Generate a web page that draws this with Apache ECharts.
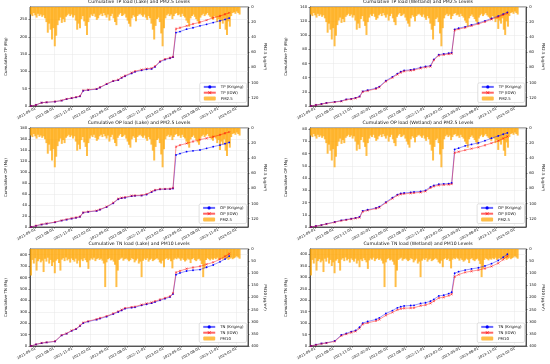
<!DOCTYPE html>
<html><head><meta charset="utf-8">
<script src="https://cdn.jsdelivr.net/npm/echarts@6/dist/echarts.min.js"></script>
<style>html,body{margin:0;padding:0;background:#fff}#c{width:550px;height:364px}</style>
</head><body><div id="c"></div>
<script>
// ---- data ----
const sampleDates = ['2021-04-09','2021-05-04','2021-06-01','2021-06-26','2021-08-07','2021-09-09','2021-10-04','2021-10-29','2021-11-20','2021-12-10','2021-12-26','2022-01-20','2022-03-03','2022-03-20','2022-04-22','2022-05-25','2022-06-19','2022-07-06','2022-07-23','2022-08-25','2022-09-11','2022-10-14','2022-11-08','2022-12-03','2022-12-20','2023-01-14','2023-02-08','2023-03-05','2023-03-20','2023-04-04','2023-04-24','2023-05-27','2023-06-28','2023-08-02','2023-09-04','2023-10-07','2023-11-10','2023-12-05','2023-12-26'];
const tpLakeKriging = [0,3,9.6,10.6,12.5,15.7,20,22.5,25,28,44,46,48.7,53.4,63,71.7,74.6,81.4,86,94,98.6,103,106,107,113,127.6,134,138,141,212,215,222,226,231.5,236,241,246,250,254];
const tpLakeIdw = [0,3,9.6,10.8,12.8,16,20.5,23,25.5,28.5,45,47,49.5,54,64,72.5,76,82.5,87.5,96,100.5,105,108,109,115,129,135.5,139.5,142,223,226,231.6,237,242,248,255,260,265,269];
const tpWetKriging = [0,1.5,2.8,4.4,5.9,7,9.5,10.2,11.5,13.5,20.8,22.4,25.1,27.5,35.8,41.2,45.8,48.5,50.3,51.2,52,54.5,56,56.9,66,72.6,73.6,74.6,75.2,108.5,110,112,114.6,117.3,120.4,123.8,127.2,130,132.5];
const tpWetIdw = [0,1.4,2.6,4.1,5.5,6.6,9,9.7,11,12.9,20.1,21.6,24.3,26.6,34.8,40.1,44.6,47.3,49.2,50.1,50.9,53.3,54.8,55.8,64.9,71.5,72.5,73.5,74.1,107,108.7,110.8,113.4,116.1,119.2,122.6,126,128.8,131];
const opLakeKriging = [0,2.2,4.5,6,8.5,11.6,13.4,15.2,16.6,18.5,26,27.5,29.2,31.5,36.3,43,50.5,52.5,53.2,56,56.7,57.1,59,63.5,66.5,68.5,68.8,69,70,131,133.5,137,138.5,140,143,146,149,151.5,153.8];
const opLakeIdw = [0,2.4,4.8,6.3,8.9,12,13.9,15.8,17.2,19,26.5,28,29.8,32,37,44,51.5,53.3,54,56.8,57.3,57.8,59.8,64.5,67.3,69,69.3,69.5,71,146,148.8,152,155.5,158.8,161.4,164,167.5,170.5,172.5];
const opWetKriging = [0,0.8,1.6,2.6,4.1,5.5,6.1,6.8,7.4,8.2,13.2,14.1,15.6,16.6,20.4,24,26.5,27.5,27.8,28.4,28.7,29.1,30,32.8,34,35,35.3,35.5,36,63.5,64.5,66.4,67.6,68.8,70.6,72.7,74.5,75.9,77];
const opWetIdw = [0,0.7,1.5,2.4,3.9,5.2,5.8,6.5,7.1,7.8,12.6,13.6,15.1,16,19.8,23.3,25.9,26.8,27.1,27.6,27.9,28.3,29.2,32,33.2,34.2,34.5,34.7,35.2,60.8,61.6,62.9,64.1,65.3,66.9,68.6,70.5,72.4,74];
const tnLakeKriging = [0,14,25,31,40,93,108,133,147,175,200,214,231,240,257,280,298,312,327,336,339,356,366,375,385,400,415,429,455,625,640,657,664,670,690,710,738,762,788];
const tnLakeIdw = [0,14,26,32,41,95,110,136,150,179,205,218,235,245,262,285,303,317,332,341,345,362,372,381,392,407,421,436,462,645,658,677,688,698,716,733,760,785,808];
const tnWetKriging = [0,6,11,14,22,48,55,63,68,82,100,107,116,123,142,155,167,172,175,177,178,186,189,196,204,219,222,229,235,318,325,332,337,342,350,360,374,388,401];
const tnWetIdw = [0,5,10,13,20,45,52,59,64,77,95,101,110,116,134,147,158,163,165,166,167,176,179,187,196,210,213,220,226,303,312,322,327,332,339,348,362,378,392];

// weekly air-quality values, first week starting pmStart
const pmStart = '2021-04-09';
const pm25 = [10,12,8,11,14,9,12,10,13,11, 15,20,34,22,30,43,28,52,38,24, 18,14,21,16,20,13,11,9,12,10,
  14,11,18,30,22,28,16,12,19,25, 37,20,14,10,12,9,13,17,15,11, 9,12,8,11,14,10,18,12,9,15,
  20,24,13,10,8,12,11,9,14,18, 22,26,15,11,13,19,12,10,9,11, 13,10,14,17,12,15,22,30,43,25,
  16,14,20,35,52,28,15,11,9,12, 10,16,12,9,8,11,10,13,9,12, 14,18,21,26,15,12,10,13,16,19,
  22,14,11,9,12,10,8,11,13,15, 17,12,14,20,16,29,18,22,15,30, 37,19,26,12,8,7,9,6,8,10];
const pm10 = [109,45,60,38,89,50,42,55,48,95, 40,52,36,60,45,70,55,100,48,42, 58,89,44,38,50,35,47,41,56,39,
  45,52,40,60,48,75,43,50,38,46, 55,82,47,39,44,36,50,42,38,45, 40,48,60,157,55,42,38,47,44,52,
  65,157,89,45,40,36,48,42,39,44, 50,46,38,42,55,47,40,60,52,116, 48,40,45,38,52,44,40,50,46,42,
  38,44,55,60,48,75,42,38,45,40, 50,80,44,38,42,36,40,48,39,45, 52,47,40,44,58,42,38,46,50,43,
  40,48,62,116,80,45,38,42,47,40, 44,38,42,36,45,40,38,44,36,42, 38,45,40,36,42,38,35,30,35,40];

const xTickLabels = ['2021-05-01','2021-08-01','2021-11-01','2022-02-01','2022-05-01','2022-08-01','2022-11-01','2023-02-01','2023-05-01','2023-08-01','2023-11-01','2024-02-01'];
const xRange = ['2021-04-04','2024-03-29'];

const panelTitles = ['Cumulative TP load (Lake) and PM2.5 Levels','Cumulative TP load (Wetland) and PM2.5 Levels',
  'Cumulative OP load (Lake) and PM2.5 Levels','Cumulative OP load (Wetland) and PM2.5 Levels',
  'Cumulative TN load (Lake) and PM10 Levels','Cumulative TN load (Wetland) and PM10 Levels'];

// ---- build ----
function ts(s){const [y,m,d]=s.split('-').map(Number);return new Date(y,m-1,d).getTime();}
function pad(n){return n<10?'0'+n:''+n;}
function fmt(v){const d=new Date(v);return d.getFullYear()+'-'+pad(d.getMonth()+1)+'-'+pad(d.getDate());}
const [sy,sm,sd]=pmStart.split('-').map(Number);
function pmData(arr){return arr.map((v,i)=>[new Date(sy,sm-1,sd+7*i).getTime(),v]);}
function lineData(arr){return sampleDates.map((d,i)=>[ts(d),arr[i]]);}
const tickTs = xTickLabels.map(ts);

const panels = [
  {nut:'TP',kr:tpLakeKriging,idw:tpLakeIdw,pm:pm25,pmName:'PM2.5',yMax:286,yInt:50,pmMax:131,pmInt:20},
  {nut:'TP',kr:tpWetKriging,idw:tpWetIdw,pm:pm25,pmName:'PM2.5',yMax:140,yInt:20,pmMax:131,pmInt:20},
  {nut:'OP',kr:opLakeKriging,idw:opLakeIdw,pm:pm25,pmName:'PM2.5',yMax:180,yInt:20,pmMax:131,pmInt:20},
  {nut:'OP',kr:opWetKriging,idw:opWetIdw,pm:pm25,pmName:'PM2.5',yMax:81,yInt:10,pmMax:131,pmInt:20},
  {nut:'TN',kr:tnLakeKriging,idw:tnLakeIdw,pm:pm10,pmName:'PM10',yMax:850,yInt:100,pmMax:400,pmInt:50},
  {nut:'TN',kr:tnWetKriging,idw:tnWetIdw,pm:pm10,pmName:'PM10',yMax:424,yInt:50,pmMax:400,pmInt:50}
];
const boxes = [
  {left:30,top:7,width:218,height:99},{left:310,top:7,width:216,height:99},
  {left:30,top:128,width:218,height:99},{left:310,top:128,width:216,height:99},
  {left:30,top:249,width:218,height:97},{left:310,top:249,width:216,height:97}
];
const FONT='DejaVu Sans';
const xSym='path://M0,1L1,0L5,4L9,0L10,1L6,5L10,9L9,10L5,6L1,10L0,9L4,5Z';
const grid=[],xAxis=[],yAxis=[],series=[],legend=[],graphic=[];
panels.forEach((p,k)=>{
  const b=boxes[k];
  grid.push({left:b.left,top:b.top,width:b.width,height:b.height,show:true,borderColor:'#222',borderWidth:0.7,containLabel:false});
  xAxis.push({type:'value',gridIndex:k,min:ts(xRange[0]),max:ts(xRange[1]),
    axisLine:{show:true,lineStyle:{color:'#222',width:0.7}},
    axisTick:{show:true,length:1.6,lineStyle:{color:'#222',width:0.5},customValues:tickTs},
    axisLabel:{customValues:tickTs,formatter:fmt,rotate:30,fontSize:3.6,color:'#111',margin:2.2,fontFamily:FONT,hideOverlap:false},
    splitLine:{show:true,lineStyle:{color:'#e6e6e6',width:0.5}}});
  yAxis.push({type:'value',gridIndex:k,min:0,max:p.yMax,interval:p.yInt,position:'left',
    name:'Cumulative '+p.nut+' (Mg)',nameLocation:'middle',nameGap:22,
    nameTextStyle:{fontSize:3.9,color:'#111',fontFamily:FONT},
    axisLine:{show:true,lineStyle:{color:'#222',width:0.7}},
    axisTick:{show:true,length:1.6,lineStyle:{color:'#222',width:0.5}},
    axisLabel:{fontSize:3.8,color:'#111',margin:2.8,fontFamily:FONT,showMaxLabel:p.yMax%p.yInt===0},
    splitLine:{show:true,lineStyle:{color:'#e6e6e6',width:0.5}}});
  yAxis.push({type:'value',gridIndex:k,min:0,max:p.pmMax,interval:p.pmInt,inverse:true,position:'right',
    name:p.pmName+' (μg/m³)',nameLocation:'middle',nameGap:15,nameRotate:-90,
    nameTextStyle:{fontSize:3.9,color:'#111',fontFamily:FONT},
    axisLine:{show:true,lineStyle:{color:'#222',width:0.7}},
    axisTick:{show:true,length:1.6,lineStyle:{color:'#222',width:0.5}},
    axisLabel:{fontSize:3.8,color:'#111',margin:3.2,fontFamily:FONT,showMaxLabel:p.pmMax%p.pmInt===0},
    splitLine:{show:false}});
  const krName=p.nut+' (Kriging)', idwName=p.nut+' (IDW)';
  series.push({type:'bar',name:p.pmName,xAxisIndex:k,yAxisIndex:2*k+1,data:pmData(p.pm),barWidth:2,
    itemStyle:{color:'#FFA500',opacity:0.72},z:1,silent:true,animation:false});
  series.push({type:'line',name:krName,xAxisIndex:k,yAxisIndex:2*k,data:lineData(p.kr),
    symbol:'circle',symbolSize:1.8,lineStyle:{color:'#0000ff',width:0.7,opacity:0.6},itemStyle:{color:'#0000ff'},z:3,animation:false});
  series.push({type:'line',name:idwName,xAxisIndex:k,yAxisIndex:2*k,data:lineData(p.idw),
    symbol:xSym,symbolSize:2.4,lineStyle:{color:'#ff0000',width:0.7,opacity:0.6},itemStyle:{color:'#ff0000'},z:3,animation:false});
  legend.push({right:550-(b.left+b.width)+1.5,bottom:364-(b.top+b.height)+3.5,orient:'vertical',
    itemWidth:12,itemHeight:4,itemGap:1.8,padding:[2,3,2,3],
    textStyle:{fontSize:3.9,color:'#111',fontFamily:FONT},
    backgroundColor:'rgba(255,255,255,0.85)',borderColor:'#cccccc',borderWidth:0.6,borderRadius:1.5,
    data:[krName,idwName,p.pmName]});
  graphic.push({type:'text',x:b.left+b.width/2,y:b.top-2.5,z:10,
    style:{text:panelTitles[k],fontSize:4.6,fontFamily:FONT,fill:'#111',align:'center',verticalAlign:'bottom'}});
});
const chart=echarts.init(document.getElementById('c'),null,{renderer:'canvas'});
chart.setOption({animation:false,backgroundColor:'#fff',textStyle:{fontFamily:FONT},grid,xAxis,yAxis,series,legend,graphic});
</script></body></html>
